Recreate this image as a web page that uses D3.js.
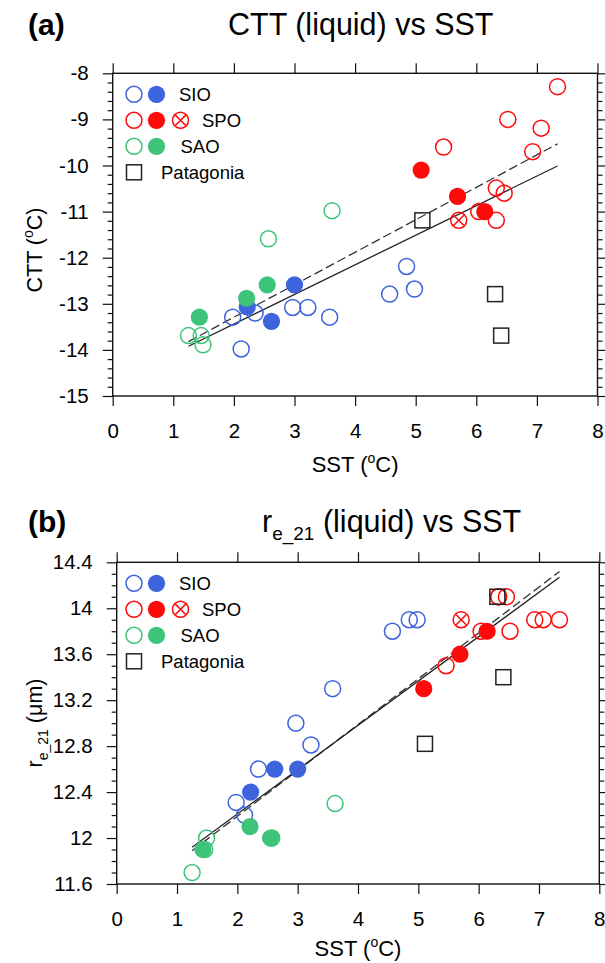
<!DOCTYPE html>
<html>
<head>
<meta charset="utf-8">
<script src="https://cdn.jsdelivr.net/npm/d3@7"></script>
<style>
  body { margin: 0; background: #fff; }
  svg { font-family: "Liberation Sans", Arial, Helvetica, sans-serif; }
</style>
</head>
<body>
<div id="chart"></div>
<script>
// values (same stations in both panels)
var sioOpenSST = [1.98, 2.12, 2.35, 2.97, 3.22, 3.58, 4.57, 4.85, 4.98];
var sioOpenCTT = [-13.29, -13.98, -13.2, -13.08, -13.08, -13.29, -12.79, -12.19, -12.68];
var sioOpenRe  = [12.31, 12.2, 12.6, 13.0, 12.81, 13.3, 13.8, 13.9, 13.9];

var sioFillSST = [2.22, 2.62, 3.0];
var sioFillCTT = [-13.07, -13.38, -12.59];
var sioFillRe  = [12.4, 12.6, 12.6];

var spoOpenSST = [5.46, 6.04, 6.33, 6.33, 6.46, 6.52, 6.93, 7.07, 7.34];
var spoOpenCTT = [-9.6, -11.0, -10.49, -11.19, -10.6, -9.0, -9.7, -9.19, -8.29];
var spoOpenRe  = [13.5, 13.8, 14.1, 14.1, 14.1, 13.8, 13.9, 13.9, 13.9];

var spoFillSST = [5.09, 5.69, 6.14];
var spoFillCTT = [-10.1, -10.67, -11.0];
var spoFillRe  = [13.3, 13.6, 13.8];

var spoCrossSST = [5.71];
var spoCrossCTT = [-11.19];
var spoCrossRe  = [13.9];

var saoOpenSST = [1.25, 1.46, 1.49, 2.57, 3.62];
var saoOpenCTT = [-13.69, -13.69, -13.89, -11.59, -10.98];
var saoOpenRe  = [11.7, 11.9, 12.0, 12.0, 12.3];

var saoFillSST = [1.43, 2.21, 2.55];
var saoFillCTT = [-13.29, -12.88, -12.59];
var saoFillRe  = [11.9, 12.1, 12.0];

var patSST = [5.11, 6.31, 6.41];
var patCTT = [-11.19, -12.79, -13.69];
var patRe  = [12.82, 14.1, 13.4];

// regression line end points
var fitSST = [1.25, 7.34];
var fitCTTSolid = [-13.92, -10.01];
var fitCTTDash  = [-13.82, -9.53];
var fitReSolid  = [11.92, 14.27];
var fitReDash   = [11.89, 14.32];

// axis ticks
var xTicks = [0, 1, 2, 3, 4, 5, 6, 7, 8];
var cttTicks = [-15, -14, -13, -12, -11, -10, -9, -8];
var reTicks = [11.6, 12, 12.4, 12.8, 13.2, 13.6, 14, 14.4];

var legendNames = ["SIO", "SPO", "SAO", "Patagonia"];

var blue = "#3d63dd", red = "#ff0a0a", green = "#3ec47a";

var groups = [
  { sst: sioOpenSST, ctt: sioOpenCTT, re: sioOpenRe, color: blue, kind: "open" },
  { sst: saoOpenSST, ctt: saoOpenCTT, re: saoOpenRe, color: green, kind: "open" },
  { sst: spoOpenSST, ctt: spoOpenCTT, re: spoOpenRe, color: red, kind: "open" },
  { sst: sioFillSST, ctt: sioFillCTT, re: sioFillRe, color: blue, kind: "fill" },
  { sst: saoFillSST, ctt: saoFillCTT, re: saoFillRe, color: green, kind: "fill" },
  { sst: spoFillSST, ctt: spoFillCTT, re: spoFillRe, color: red, kind: "fill" },
  { sst: spoCrossSST, ctt: spoCrossCTT, re: spoCrossRe, color: red, kind: "cross" },
  { sst: patSST, ctt: patCTT, re: patRe, color: "#222", kind: "square" }
];

var svg = d3.select("#chart").append("svg")
  .attr("width", 605)
  .attr("height", 963);

function drawMarker(g, kind, color, cx, cy) {
  if (kind === "open" || kind === "cross") {
    g.append("circle")
      .attr("cx", cx).attr("cy", cy).attr("r", 8)
      .attr("fill", "none").attr("stroke", color).attr("stroke-width", 1.5);
  }
  if (kind === "cross") {
    var k = 5.2;
    g.append("path")
      .attr("d", "M" + (cx - k) + "," + (cy - k) + "L" + (cx + k) + "," + (cy + k) +
                 "M" + (cx - k) + "," + (cy + k) + "L" + (cx + k) + "," + (cy - k))
      .attr("stroke", color).attr("stroke-width", 1.5);
  }
  if (kind === "fill") {
    g.append("circle")
      .attr("cx", cx).attr("cy", cy).attr("r", 8.6)
      .attr("fill", color);
  }
  if (kind === "square") {
    g.append("rect")
      .attr("x", cx - 7.5).attr("y", cy - 7.5)
      .attr("width", 15).attr("height", 15)
      .attr("fill", "none").attr("stroke", color).attr("stroke-width", 1.5);
  }
}

function drawPanel(p) {
  var x = d3.scaleLinear().domain([0, 8]).range([p.left, p.right]);
  var y = d3.scaleLinear().domain([p.yTicks[0], p.yTicks[p.yTicks.length - 1]])
    .range([p.bottom, p.top]);

  // minor ticks between the labelled ones
  var minor = [];
  for (var i = 0; i < p.yTicks.length - 1; i++) {
    var step = (p.yTicks[i + 1] - p.yTicks[i]) / p.nMinor;
    for (var j = 1; j < p.nMinor; j++) minor.push(p.yTicks[i] + j * step);
  }

  var fmt = function (d) { return String(d); };

  // axes
  var bottom = svg.append("g")
    .attr("transform", "translate(0," + p.bottom + ")")
    .call(d3.axisBottom(x).tickValues(xTicks).tickSize(10).tickSizeOuter(0).tickFormat(fmt));
  bottom.selectAll("text").attr("y", 27).attr("dy", "0.71em");

  svg.append("g")
    .attr("transform", "translate(0," + p.top + ")")
    .call(d3.axisTop(x).tickValues(xTicks).tickSize(10).tickSizeOuter(0).tickFormat(""));

  svg.append("g")
    .attr("transform", "translate(" + p.left + ",0)")
    .call(d3.axisLeft(y).tickValues(p.yTicks).tickSize(10).tickSizeOuter(0).tickPadding(14).tickFormat(fmt));

  svg.append("g")
    .attr("transform", "translate(" + p.left + ",0)")
    .call(d3.axisLeft(y).tickValues(minor).tickSize(5).tickSizeOuter(0).tickFormat(""));

  svg.append("g")
    .attr("transform", "translate(" + p.right + ",0)")
    .call(d3.axisRight(y).tickValues(p.yTicks).tickSize(10).tickSizeOuter(0).tickFormat(""));

  svg.append("g")
    .attr("transform", "translate(" + p.right + ",0)")
    .call(d3.axisRight(y).tickValues(minor).tickSize(5).tickSizeOuter(0).tickFormat(""));

  svg.selectAll(".domain").remove();
  svg.selectAll(".tick line").attr("stroke", "#111").attr("stroke-width", 1.2);
  svg.selectAll(".tick text").attr("fill", "#000").attr("font-size", 20.5)
    .attr("font-family", "'Liberation Sans', Arial, sans-serif");

  svg.append("rect")
    .attr("x", p.left).attr("y", p.top)
    .attr("width", p.right - p.left).attr("height", p.bottom - p.top)
    .attr("fill", "none").attr("stroke", "#111").attr("stroke-width", 1.4);

  // regression lines
  var line = d3.line().x(function (d) { return x(d[0]); }).y(function (d) { return y(d[1]); });
  svg.append("path")
    .attr("d", line(d3.zip(fitSST, p.fitDash)))
    .attr("fill", "none").attr("stroke", "#333").attr("stroke-width", 1.3)
    .attr("stroke-dasharray", "9,4");
  svg.append("path")
    .attr("d", line(d3.zip(fitSST, p.fitSolid)))
    .attr("fill", "none").attr("stroke", "#222").attr("stroke-width", 1.3);

  // points
  var pts = svg.append("g");
  groups.forEach(function (grp) {
    var vals = grp[p.key];
    grp.sst.forEach(function (s, i) {
      drawMarker(pts, grp.kind, grp.color, x(s), y(vals[i]));
    });
  });

  // legend
  var lg = svg.append("g");
  var rows = [p.top + 21, p.top + 47, p.top + 73, p.top + 99];
  drawMarker(lg, "open", blue, 134, rows[0]);
  drawMarker(lg, "fill", blue, 156.5, rows[0]);
  drawMarker(lg, "open", red, 134, rows[1]);
  drawMarker(lg, "fill", red, 156.5, rows[1]);
  drawMarker(lg, "cross", red, 180.5, rows[1]);
  drawMarker(lg, "open", green, 134, rows[2]);
  drawMarker(lg, "fill", green, 156.5, rows[2]);
  drawMarker(lg, "square", "#222", 134, rows[3]);
  var textX = [179, 202, 180.5, 161];
  legendNames.forEach(function (name, i) {
    lg.append("text")
      .attr("x", textX[i]).attr("y", rows[i])
      .attr("dy", "0.36em")
      .attr("font-size", 18.5)
      .text(name);
  });

  // x axis title
  var xt = svg.append("text")
    .attr("x", (p.left + p.right) / 2).attr("y", p.bottom + p.xTitleOff)
    .attr("text-anchor", "middle").attr("font-size", 22);
  xt.append("tspan").text("SST (");
  xt.append("tspan").attr("font-size", 14).attr("dy", -9).text("o");
  xt.append("tspan").attr("dy", 9).text("C)");

  // panel letter
  svg.append("text")
    .attr("x", 28).attr("y", p.titleY)
    .attr("font-size", 30).attr("font-weight", "bold")
    .text(p.letter);
}

drawPanel({
  key: "ctt", letter: "(a)",
  left: 112.7, right: 597.5, top: 73.3, bottom: 396,
  yTicks: cttTicks, nMinor: 5,
  fitSolid: fitCTTSolid, fitDash: fitCTTDash,
  titleY: 35, xTitleOff: 76
});

drawPanel({
  key: "re", letter: "(b)",
  left: 116.7, right: 599.3, top: 562.3, bottom: 884,
  yTicks: reTicks, nMinor: 4,
  fitSolid: fitReSolid, fitDash: fitReDash,
  titleY: 532, xTitleOff: 72
});

// panel titles
svg.append("text")
  .attr("x", 228).attr("y", 35)
  .attr("font-size", 30.5)
  .text("CTT (liquid) vs SST");

var tb = svg.append("text")
  .attr("x", 262).attr("y", 532)
  .attr("font-size", 30.5);
tb.append("tspan").text("r");
tb.append("tspan").attr("font-size", 19).attr("dy", 8).text("e_21");
tb.append("tspan").attr("dy", -8).text(" (liquid) vs SST");

// y axis titles
var ya = svg.append("text")
  .attr("transform", "translate(42,250) rotate(-90)")
  .attr("text-anchor", "middle").attr("font-size", 21.5);
ya.append("tspan").text("CTT (");
ya.append("tspan").attr("font-size", 14).attr("dy", -9).text("o");
ya.append("tspan").attr("dy", 9).text("C)");

var yb = svg.append("text")
  .attr("transform", "translate(42,723) rotate(-90)")
  .attr("text-anchor", "middle").attr("font-size", 21.5);
yb.append("tspan").text("r");
yb.append("tspan").attr("font-size", 14).attr("dy", 6).text("e_21");
yb.append("tspan").attr("dy", -6).text(" (\u03bcm)");
</script>
</body>
</html>
